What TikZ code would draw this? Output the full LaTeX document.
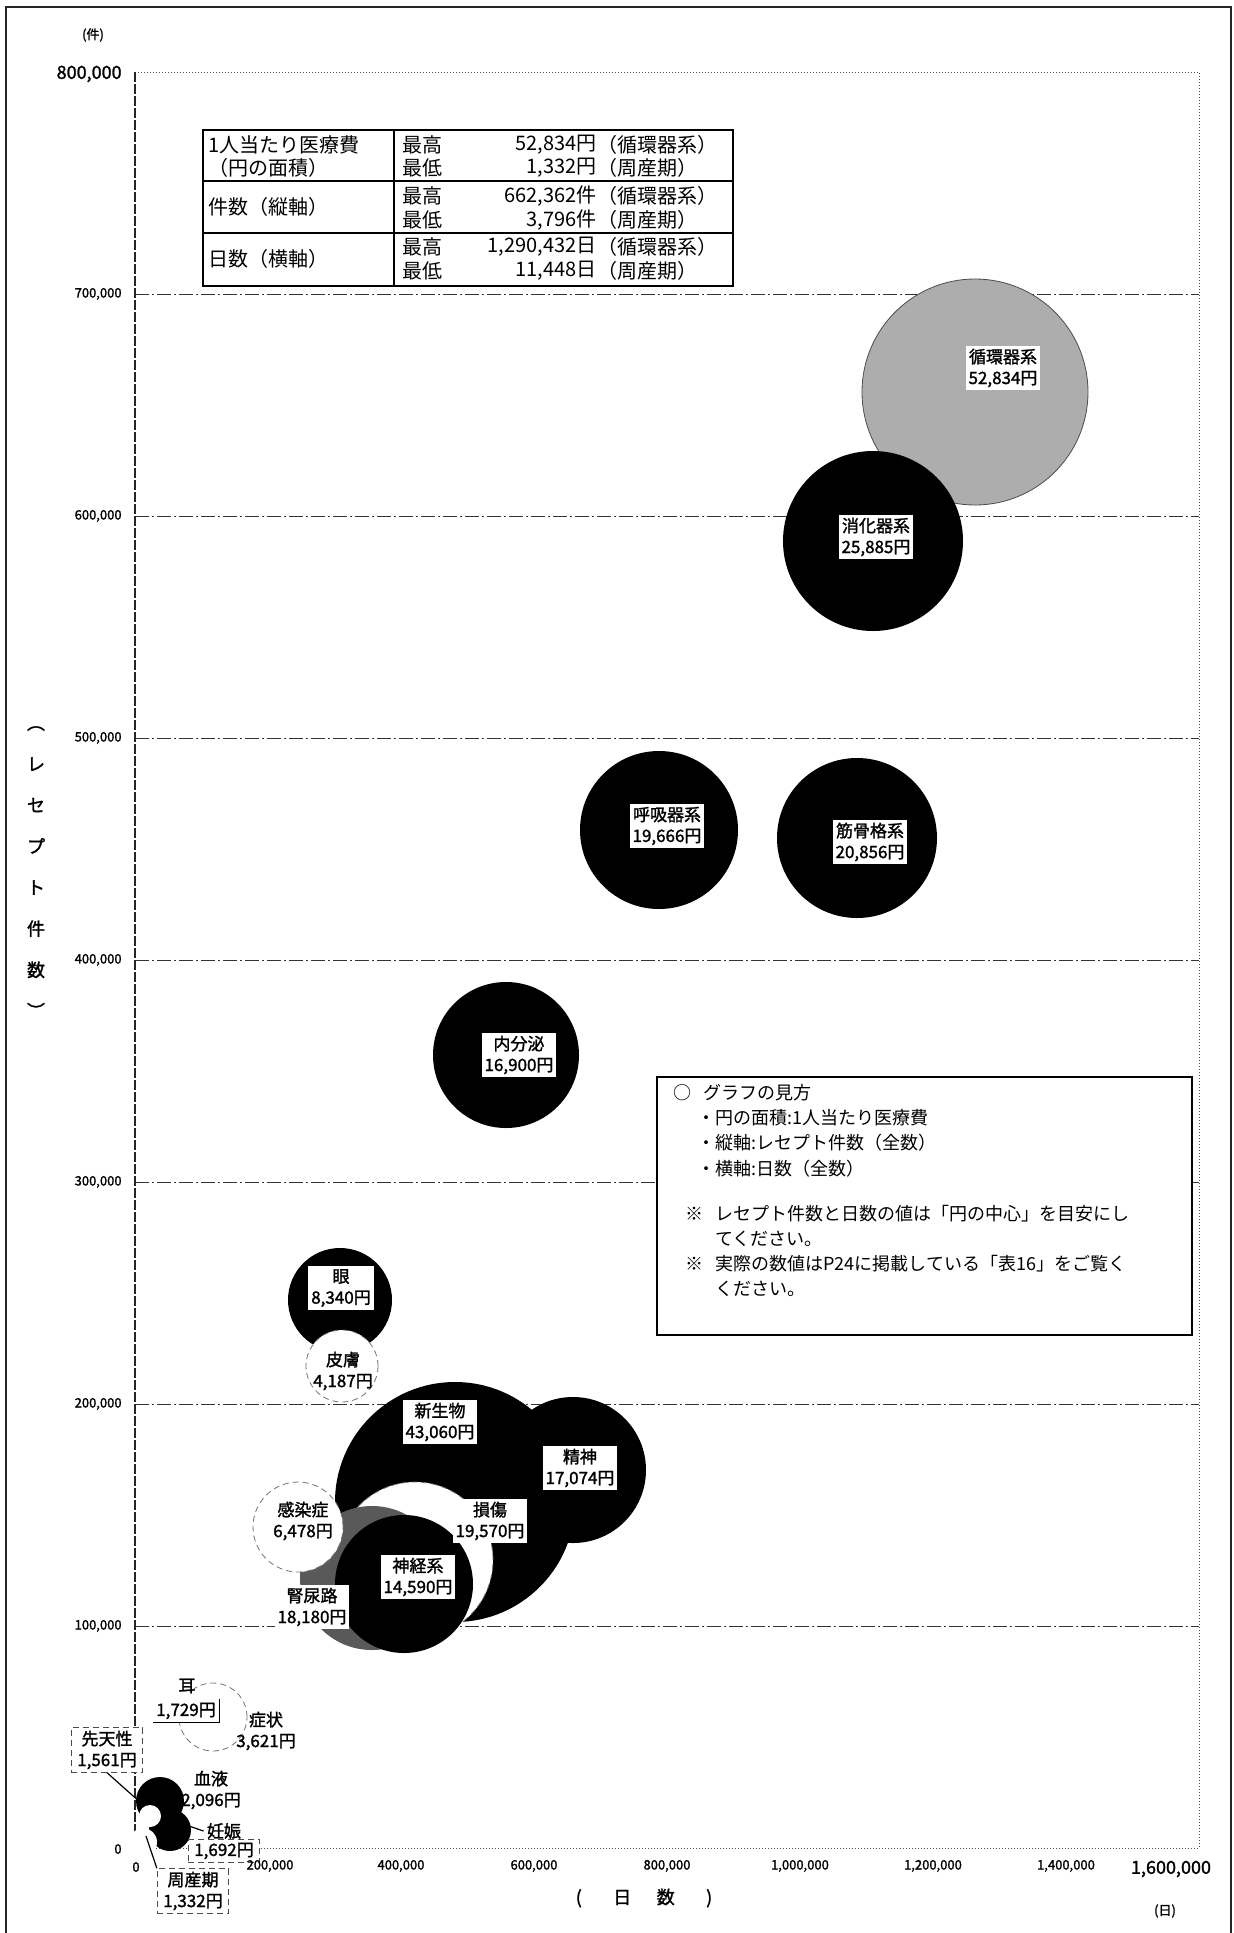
\documentclass[tikz,border=0pt]{standalone}
\usepackage{fontspec}
\setmainfont{Noto Sans CJK JP}[AutoFakeBold=1.5]
\usepackage{tikz}

\begin{document}
\begin{tikzpicture}[x=0.5pt,y=-0.5pt,
	bub/.style={circle,inner sep=0pt,outer sep=0pt},
	wbub/.style={bub,fill=white,draw=black!55,densely dashed,line width=0.4pt},
	lbl/.style={fill=white,inner sep=1.5pt,align=center,font=\fontsize{8.5}{10.5}\selectfont\bfseries},
	dlbl/.style={lbl,draw=black!70,densely dashed,line width=0.4pt,inner xsep=3pt},
	gridln/.style={black!80,line width=0.5pt,dash pattern=on 7pt off 1.5pt on 1pt off 1.5pt},
	ytk/.style={anchor=east,inner sep=0pt,font=\fontsize{6.5}{7}\selectfont\bfseries},
	xtk/.style={inner sep=0pt,font=\fontsize{6.5}{7}\selectfont\bfseries},
	txt/.style={inner sep=0pt,font=\fontsize{10}{11}\selectfont}]
\useasboundingbox (0,0) rectangle (1234,1933);

\draw[black!85,line width=0.6pt] (6,1933) -- (6,7) -- (1231,7) -- (1231,1933);

\draw[gridln] (135,1626) -- (1199,1626);
\draw[gridln] (135,1404) -- (1199,1404);
\draw[gridln] (135,1182) -- (1199,1182);
\draw[gridln] (135,960) -- (1199,960);
\draw[gridln] (135,738) -- (1199,738);
\draw[gridln] (135,516) -- (1199,516);
\draw[gridln] (135,294) -- (1199,294);
\draw[black!70,line width=0.5pt,densely dotted] (135,72) -- (1199,72) -- (1199,1848) -- (135,1848);
\draw[black!85,line width=0.6pt,dash pattern=on 5pt off 1pt] (135,72) -- (135,1848);

\node[bub,fill=black!32,draw=black!70,minimum size=113pt] (junkan) at (975,392) {};
\node[bub,fill=black,minimum size=90pt] (shoka) at (873,541) {};
\node[bub,fill=black,minimum size=79pt] (kokyu) at (659,830) {};
\node[bub,fill=black,minimum size=80pt] (kinkot) at (857,838) {};
\node[bub,fill=black,minimum size=73pt] (naibun) at (506,1055) {};
\node[bub,fill=black,minimum size=52pt] (me) at (340,1300) {};
\node[wbub,minimum size=36pt] (hifu) at (342,1366) {};
\node[bub,fill=black,minimum size=120pt] (shinsei) at (455,1502) {};
\node[bub,fill=black,minimum size=73pt] (seishin) at (573,1470) {};
\node[wbub,minimum size=78pt] (sonsho) at (415,1560) {};
\node[bub,fill=black!65,minimum size=72pt] (jinnyo) at (372,1578) {};
\node[wbub,minimum size=45pt] (kansen) at (298,1527) {};
\node[bub,fill=black,minimum size=69pt] (shinkei) at (404,1584) {};
\node[wbub,minimum size=34pt] (shojo) at (213,1717) {};
\node[bub,fill=white,minimum size=23pt] (mimi) at (200,1712) {};
\node[bub,fill=black,minimum size=24pt] (ketsu) at (160,1801) {};
\node[bub,fill=black,minimum size=21pt] (ninshin) at (170,1830) {};
\node[bub,fill=white,minimum size=11pt] (senten) at (150,1816) {};
\node[bub,fill=white,minimum size=14pt] (shusan) at (143,1842) {};

\draw[line width=0.7pt] (203,130) rectangle (733,286);
\draw[line width=0.7pt] (394,130) -- (394,286);
\draw[line width=0.7pt] (203,181) -- (733,181);
\draw[line width=0.7pt] (203,233) -- (733,233);
\node[txt,anchor=west] (hiyoa) at (208,145) {1人当たり医療費};
\node[txt,anchor=west] (hiyob) at (208,168) {（円の面積）};
\node[txt,anchor=west] (kensu) at (208,207) {件数（縦軸）};
\node[txt,anchor=west] (nissu) at (208,259) {日数（横軸）};
\node[txt,anchor=west] (hmax) at (402,145) {最高};
\node[txt,anchor=west] (hmin) at (402,168) {最低};
\node[txt,anchor=west] (kmax) at (402,196) {最高};
\node[txt,anchor=west] (kmin) at (402,220) {最低};
\node[txt,anchor=west] (nmax) at (402,247) {最高};
\node[txt,anchor=west] (nmin) at (402,271) {最低};
\node[txt,anchor=east] (hmaxv) at (597,145) {52,834円};
\node[txt,anchor=east] (hminv) at (597,168) {1,332円};
\node[txt,anchor=east] (kmaxv) at (597,196) {662,362件};
\node[txt,anchor=east] (kminv) at (597,220) {3,796件};
\node[txt,anchor=east] (nmaxv) at (597,247) {1,290,432日};
\node[txt,anchor=east] (nminv) at (597,271) {11,448日};
\node[txt,anchor=west] (hmaxp) at (597,145) {（循環器系）};
\node[txt,anchor=west] (hminp) at (597,168) {（周産期）};
\node[txt,anchor=west] (kmaxp) at (597,196) {（循環器系）};
\node[txt,anchor=west] (kminp) at (597,220) {（周産期）};
\node[txt,anchor=west] (nmaxp) at (597,247) {（循環器系）};
\node[txt,anchor=west] (nminp) at (597,271) {（周産期）};

\draw[line width=0.7pt,fill=white] (657,1077) rectangle (1192,1335);
\node[inner sep=0pt,anchor=north west,align=left,font=\fontsize{9}{12.6}\selectfont] (guide) at (673,1084)
	{\makebox[15pt][l]{○}グラフの見方\\
	\hspace*{12pt}・円の面積:1人当たり医療費\\
	\hspace*{12pt}・縦軸:レセプト件数（全数）\\
	\hspace*{12pt}・横軸:日数（全数）\\[10pt]
	\hspace*{6pt}\makebox[15pt][l]{※}レセプト件数と日数の値は「円の中心」を目安にし\\
	\hspace*{21pt}てください。\\
	\hspace*{6pt}\makebox[15pt][l]{※}実際の数値はP24に掲載している「表16」をご覧く\\
	\hspace*{21pt}ください。};

\node[lbl] (junkanl) at (1003,368) {循環器系\\52,834円};
\node[lbl] (shokal) at (876,537) {消化器系\\25,885円};
\node[lbl] (kokyul) at (667,826) {呼吸器系\\19,666円};
\node[lbl] (kinkotl) at (870,842) {筋骨格系\\20,856円};
\node[lbl] (naibunl) at (519,1055) {内分泌\\16,900円};
\node[lbl] (mel) at (341,1288) {眼\\8,340円};
\node[lbl,fill=none] (hifel) at (343,1371) {皮膚\\4,187円};
\node[lbl] (shinseil) at (440,1422) {新生物\\43,060円};
\node[lbl] (seishinl) at (580,1468) {精神\\17,074円};
\node[lbl] (sonshol) at (490,1521) {損傷\\19,570円};
\node[lbl,fill=none] (kansenl) at (303,1521) {感染症\\6,478円};
\node[lbl] (shinkeil) at (418,1577) {神経系\\14,590円};
\node[lbl] (jinnyol) at (312,1607) {腎尿路\\18,180円};
\node[lbl,fill=none] (shojol) at (266,1731) {症状\\3,621円};
\node[lbl,fill=none] (mimit) at (187,1686) {耳};
\node[lbl] (mimil) at (186,1711) {1,729円};
\draw[line width=0.4pt] (mimil.north east) -- (mimil.south east) -- (mimil.south west);
\node[lbl,fill=none] (ketsul) at (211,1790) {血液\\2,096円};
\node[lbl,fill=none] (ninshint) at (224,1831) {妊娠};
\node[dlbl] (ninshinl) at (224,1851) {1,692円};
\node[dlbl] (sentenl) at (107,1750) {先天性\\1,561円};
\node[dlbl] (shusanl) at (193,1891) {周産期\\1,332円};
\coordinate (sentenp) at (141,1803);
\coordinate (ninshinp) at (177,1822);
\coordinate (shusanp) at (146,1836);
\draw[line width=0.6pt] (sentenl.south) -- (sentenp);
\draw[line width=0.6pt] (ninshinp) -- (ninshint.west);
\draw[line width=0.6pt] (shusanp) -- (shusanl.north west);

\node[inner sep=0pt,font=\fontsize{6.5}{7}\selectfont\bfseries] (ken) at (93,35) {(件)};
\node[ytk,font=\fontsize{9}{10}\selectfont\bfseries] (y8) at (122,74) {800,000};
\node[ytk] (y7) at (122,294) {700,000};
\node[ytk] (y6) at (122,516) {600,000};
\node[ytk] (y5) at (122,738) {500,000};
\node[ytk] (y4) at (122,960) {400,000};
\node[ytk] (y3) at (122,1182) {300,000};
\node[ytk] (y2) at (122,1404) {200,000};
\node[ytk] (y1) at (122,1626) {100,000};
\node[ytk] (y0) at (122,1849) {0};
\node[xtk] (x0) at (136,1867) {0};
\node[xtk] (x2) at (270,1866) {200,000};
\node[xtk] (x4) at (401,1866) {400,000};
\node[xtk] (x6) at (534,1866) {600,000};
\node[xtk] (x8) at (667,1866) {800,000};
\node[xtk] (x10) at (800,1866) {1,000,000};
\node[xtk] (x12) at (933,1866) {1,200,000};
\node[xtk] (x14) at (1066,1866) {1,400,000};
\node[xtk,font=\fontsize{9}{10}\selectfont\bfseries] (x16) at (1171,1869) {1,600,000};
\node[inner sep=0pt,align=center,font=\fontsize{9}{20.6}\selectfont\bfseries] (ytitle) at (36,872)
	{︵\\レ\\セ\\プ\\ト\\件\\数\\︶};
\node[inner sep=0pt,font=\fontsize{9}{10}\selectfont\bfseries] (xtitle) at (644,1898)
	{\makebox[21.75pt]{(}\makebox[21.75pt]{日}\makebox[21.75pt]{数}\makebox[21.75pt]{)}};
\node[inner sep=0pt,font=\fontsize{6.5}{7}\selectfont\bfseries] (nichi) at (1165,1911) {(日)};
\end{tikzpicture}
\end{document}
